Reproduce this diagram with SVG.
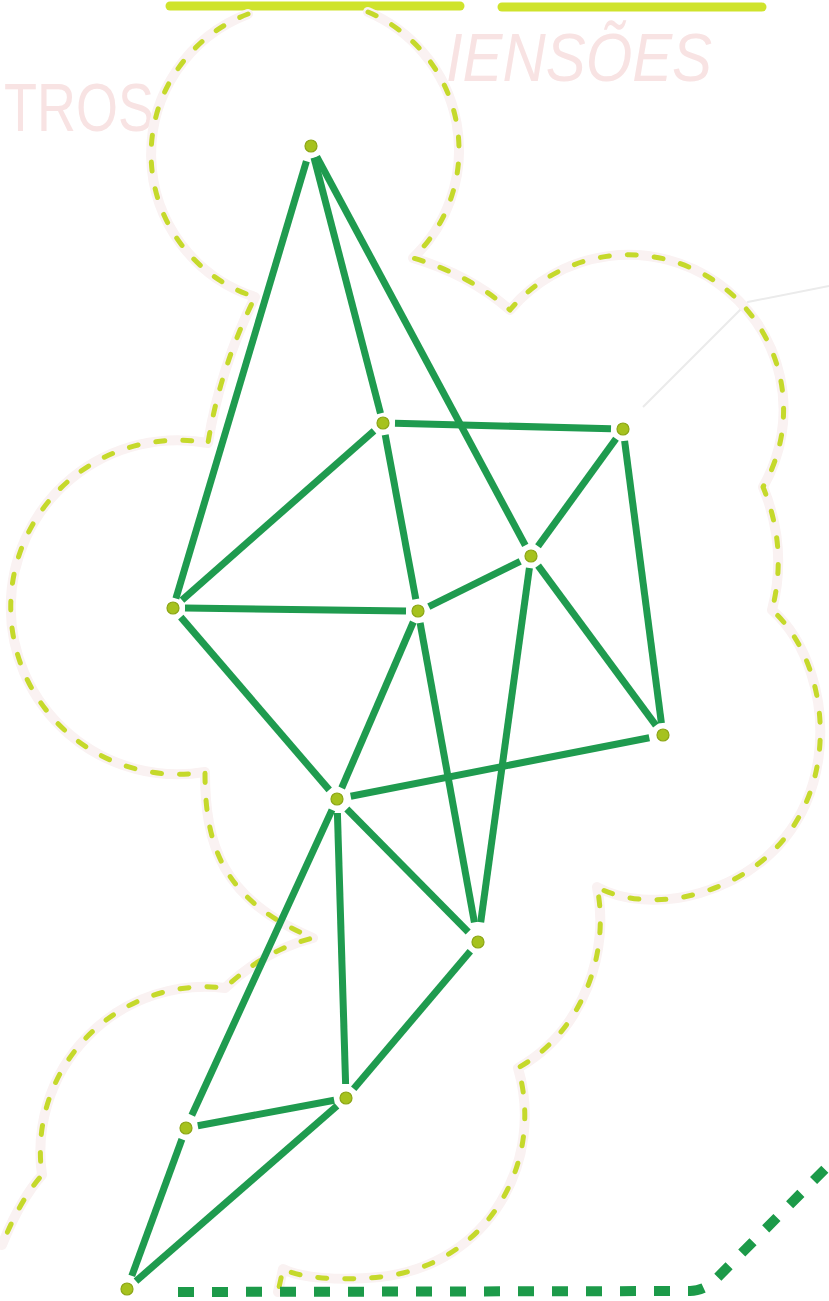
<svg xmlns="http://www.w3.org/2000/svg" width="829" height="1301" viewBox="0 0 829 1301">
<style>
.halo{fill:none;stroke:#faf2f2;stroke-width:10;stroke-linecap:round;stroke-linejoin:round}
.cloud{fill:none;stroke:#c5d92b;stroke-width:5;stroke-dasharray:9 18;stroke-linecap:round;stroke-linejoin:round}
.bar{stroke:#cfe32c;stroke-width:9;stroke-linecap:round}
.e{stroke:#1f9b4f;stroke-width:7;stroke-linecap:butt}
.n{fill:#a6c21e;stroke:#8ca616;stroke-width:1.2}
.ghost{font-family:"Liberation Sans",Arial,sans-serif;fill:#f8e3e3;font-size:68px}
.bottom{fill:none;stroke:#1c9a49;stroke-width:10;stroke-dasharray:16 18}
</style>
<rect width="829" height="1301" fill="#ffffff"/>

<g id="ghost-text">
<text class="ghost" x="4" y="131" textLength="150" lengthAdjust="spacingAndGlyphs">TROS</text>
<text class="ghost" x="446" y="81" font-style="italic" textLength="266" lengthAdjust="spacingAndGlyphs">IENSÕES</text>
<polyline points="643,407 700,350 748,302 829,286" fill="none" stroke="#ebebeb" stroke-width="2"/>
</g>

<g id="bars">
<line class="bar" x1="170" y1="6" x2="460" y2="6"/>
<line class="bar" x1="502" y1="7" x2="762" y2="7"/>
</g>

<g id="cloud">
<path id="cloud-left" class="halo" d="M248,14 A150,150 0 0 0 255,297 Q220,368 208,443 A167,167 0 1 0 205,772 C205,845 222,900 313,938 Q265,950 225,988 A165,165 0 0 0 42,1175 Q20,1200 2,1245"/>
<path id="cloud-right" class="halo" d="M368,12 A150,150 0 0 1 413,258 Q470,275 510,310 A155,155 0 0 1 763,487 Q788,548 772,610 C842,672 850,848 700,893 C660,905 620,900 597,887 C610,950 585,1030 518,1068 C545,1160 490,1265 380,1277 C340,1281 300,1278 283,1269 L278,1292"/>
<path class="cloud" d="M248,14 A150,150 0 0 0 255,297 Q220,368 208,443 A167,167 0 1 0 205,772 C205,845 222,900 313,938 Q265,950 225,988 A165,165 0 0 0 42,1175 Q20,1200 2,1245"/>
<path class="cloud" d="M368,12 A150,150 0 0 1 413,258 Q470,275 510,310 A155,155 0 0 1 763,487 Q788,548 772,610 C842,672 850,848 700,893 C660,905 620,900 597,887 C610,950 585,1030 518,1068 C545,1160 490,1265 380,1277 C340,1281 300,1278 283,1269 L278,1292"/>
</g>

<g id="bottom-line">
<path class="bottom" d="M178,1292 L690,1291 Q705,1291 717,1278 L829,1165"/>
</g>

<g id="connectors">
<line class="e" x1="306.4" y1="161.3" x2="175.9" y2="598.4"/>
<line class="e" x1="314" y1="157.6" x2="380.5" y2="413.3"/>
<line class="e" x1="316.7" y1="156.6" x2="525.3" y2="545.4"/>
<line class="e" x1="395" y1="423.3" x2="611" y2="428.7"/>
<line class="e" x1="374" y1="430.9" x2="182" y2="600.1"/>
<line class="e" x1="385.2" y1="434.8" x2="415.8" y2="599.2"/>
<line class="e" x1="616" y1="438.7" x2="538" y2="546.3"/>
<line class="e" x1="624.6" y1="440.9" x2="661.4" y2="723.1"/>
<line class="e" x1="185" y1="608.1" x2="406" y2="610.9"/>
<line class="e" x1="428.8" y1="606.7" x2="520.2" y2="561.3"/>
<line class="e" x1="538.1" y1="565.7" x2="655.9" y2="725.3" stroke-width="8"/>
<line class="e" x1="529.4" y1="567.9" x2="480.7" y2="922.2"/>
<line class="e" x1="180.8" y1="617.1" x2="329.2" y2="789.9"/>
<line class="e" x1="413.3" y1="622" x2="341.7" y2="788"/>
<line class="e" x1="420.1" y1="622.8" x2="474.4" y2="922.3"/>
<line class="e" x1="649.3" y1="737.7" x2="350.7" y2="796.3"/>
<line class="e" x1="346.8" y1="809" x2="468.2" y2="932"/>
<line class="e" x1="332" y1="809.9" x2="191.8" y2="1115.3"/>
<line class="e" x1="337.4" y1="813" x2="345.6" y2="1084"/>
<line class="e" x1="470.3" y1="951.2" x2="353.7" y2="1088.8"/>
<line class="e" x1="334.2" y1="1100.2" x2="197.8" y2="1125.8"/>
<line class="e" x1="337" y1="1105.9" x2="136" y2="1281.1"/>
<line class="e" x1="181.9" y1="1139.3" x2="131.8" y2="1275.9"/>
</g>

<g id="node-A"><circle class="n" cx="311" cy="146" r="6"/></g>
<g id="node-B"><circle class="n" cx="383" cy="423" r="6"/></g>
<g id="node-C"><circle class="n" cx="623" cy="429" r="6"/></g>
<g id="node-D"><circle class="n" cx="531" cy="556" r="6"/></g>
<g id="node-E"><circle class="n" cx="173" cy="608" r="6"/></g>
<g id="node-F"><circle class="n" cx="418" cy="611" r="6"/></g>
<g id="node-G"><circle class="n" cx="663" cy="735" r="6"/></g>
<g id="node-H"><circle class="n" cx="337" cy="799" r="6"/></g>
<g id="node-I"><circle class="n" cx="478" cy="942" r="6"/></g>
<g id="node-J"><circle class="n" cx="346" cy="1098" r="6"/></g>
<g id="node-K"><circle class="n" cx="186" cy="1128" r="6"/></g>
<g id="node-L"><circle class="n" cx="127" cy="1289" r="6"/></g>
</svg>
